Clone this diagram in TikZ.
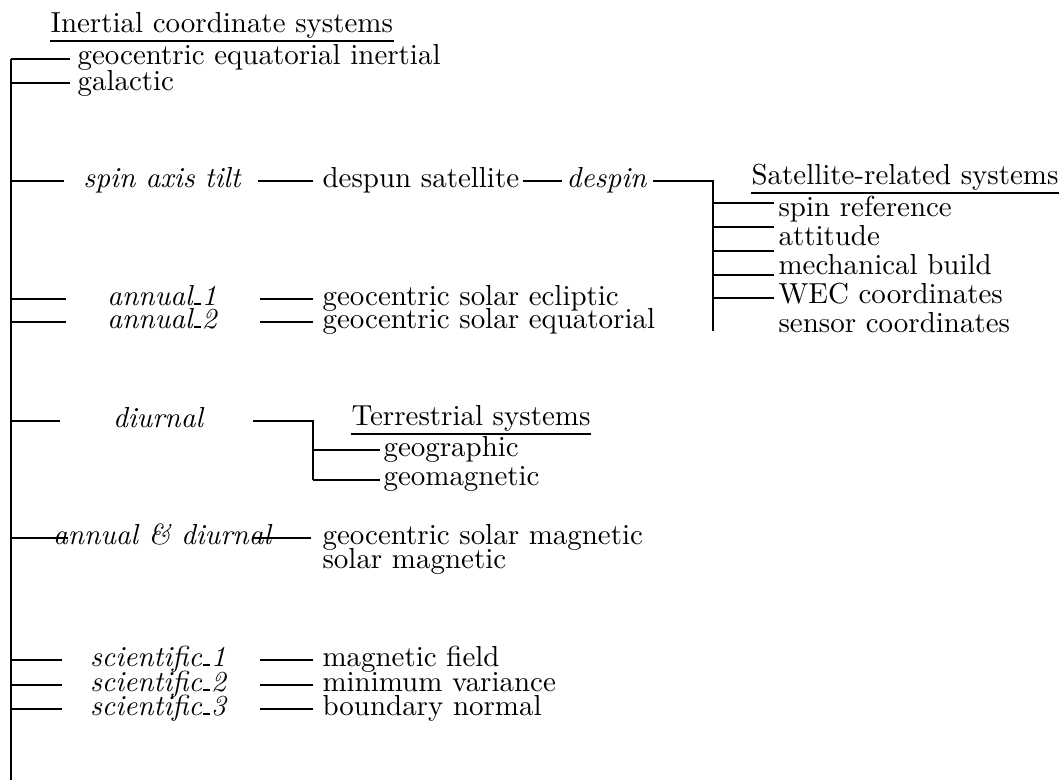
\documentclass[tikz,border=0pt]{standalone}
% short, heavy underscore as in the index labels
\newcommand\usc{\kern0.04em\rule{0.24em}{0.1em}\kern0.04em}
\begin{document}
\begin{tikzpicture}[x=0.3454pt,y=-0.3454pt,
  txt/.style={inner sep=0pt, anchor=base west},
  op/.style={inner sep=0pt, anchor=base, font=\itshape},
  conn/.style={line width=1pt},
  uline/.style={line width=0.6pt}]
\useasboundingbox (0,0) rectangle (1064,780);

% ---- inertial root and trunk
\node[txt] (inert) at (50,33) {Inertial coordinate systems};
\draw[uline] (inert.west |- 0,41) -- (inert.east |- 0,41);
\coordinate (trunkTop) at (11,59);
\coordinate (trunkBot) at (11,780);
\draw[conn] (trunkTop) -- (trunkBot);

\node[txt] (gei) at (77,64.5) {geocentric equatorial inertial};
\node[txt] (gal) at (77,91) {galactic};
\coordinate (galT) at (11,83);
\draw[conn, shorten >=2.4pt] (trunkTop) -- (gei.west |- trunkTop);
\draw[conn, shorten >=2.4pt] (galT) -- (gal.west |- galT);

% ---- spin axis tilt chain
\coordinate (sT) at (11,181);   \coordinate (sA) at (64,181);
\coordinate (sB) at (258,181);  \coordinate (sC) at (313,181);
\node[op] (tilt) at (162,187.5) {spin axis tilt};
\node[txt] (despun) at (322,187.5) {despun satellite};
\node[op, anchor=base west] (despin) at (566,187.5) {despin};
\coordinate (dsK) at (713,181);
\coordinate (dsBot) at (713,331);
\draw[conn] (sT) -- (sA);
\draw[conn] (sB) -- (sC);
\draw[conn, shorten <=1pt, shorten >=1.5pt] (despun.east |- sT) -- (despin.west |- sT);
\draw[conn, shorten <=2pt] (despin.east |- sT) -- (dsK) -- (dsBot);

% ---- satellite-related systems
\node[txt] (satT) at (751,185) {Satellite-related systems};
\draw[uline] (satT.west |- 0,193) -- (satT.east |- 0,193);
\node[txt] (spinref) at (778,217) {spin reference};
\node[txt] (att) at (778,246) {attitude};
\node[txt] (mech) at (778,275) {mechanical build};
\node[txt] (wec) at (778,304) {WEC coordinates};
\node[txt] (sens) at (778,333) {sensor coordinates};
\foreach \n/\y in {spinref/203, att/227, mech/251, wec/275, sens/298}{
  \coordinate (k-\n) at (713,\y);
  \draw[conn, shorten >=1.4pt] (k-\n) -- (\n.west |- k-\n);
}

% ---- annual rows
\coordinate (a1T) at (11,299);  \coordinate (a1A) at (66,299);
\coordinate (a1B) at (260,299); \coordinate (a1C) at (313,299);
\node[op] (ann1) at (162,305.5) {annual\usc 1};
\node[txt] (gse) at (322,305.5) {geocentric solar ecliptic};
\draw[conn] (a1T) -- (a1A);
\draw[conn] (a1B) -- (a1C);

\coordinate (a2T) at (11,322);  \coordinate (a2A) at (66,322);
\coordinate (a2B) at (260,322); \coordinate (a2C) at (313,322);
\node[op] (ann2) at (162,328.5) {annual\usc 2};
\node[txt] (gseq) at (322,328.5) {geocentric solar equatorial};
\draw[conn] (a2T) -- (a2A);
\draw[conn] (a2B) -- (a2C);

% ---- diurnal / terrestrial
\coordinate (dT) at (11,421);  \coordinate (dA) at (60,421);
\coordinate (dB) at (253,421); \coordinate (dK) at (313,421);
\coordinate (dBot) at (313,480);
\node[op] (diur) at (158,427.5) {diurnal};
\draw[conn] (dT) -- (dA);
\draw[conn] (dB) -- (dK) -- (dBot);
\node[txt] (terr) at (351,426) {Terrestrial systems};
\draw[uline] (terr.west |- 0,434) -- (terr.east |- 0,434);
\node[txt] (geog) at (383,457) {geographic};
\node[txt] (geom) at (383,486) {geomagnetic};
\coordinate (kGeog) at (313,450);
\draw[conn, shorten >=1pt] (kGeog) -- (geog.west |- kGeog);
\draw[conn, shorten >=1pt] (dBot) -- (geom.west |- dBot);

% ---- annual & diurnal
\coordinate (adT) at (11,538);  \coordinate (adA) at (68,538);
\coordinate (adB) at (253,538); \coordinate (adC) at (311,538);
\node[op] (annd) at (162,544.5) {annual \& diurnal};
\node[txt] (gsm) at (322,544.5) {geocentric solar magnetic};
\node[txt] (sm) at (322,569) {solar magnetic};
\draw[conn] (adT) -- (adA);
\draw[conn] (adB) -- (adC);

% ---- scientific rows
\foreach \i/\y/\lab in {1/660/magnetic field, 2/685/minimum variance, 3/709/boundary normal}{
  \coordinate (sc\i T) at (11,\y);  \coordinate (sc\i A) at (62,\y);
  \coordinate (sc\i B) at (260,\y); \coordinate (sc\i C) at (313,\y);
  \node[op] (sci\i) at (158,\y+6.5) {scientific\usc\i};
  \node[txt] (res\i) at (322,\y+6.5) {\lab};
  \draw[conn] (sc\i T) -- (sc\i A);
  \draw[conn] (sc\i B) -- (sc\i C);
}
\end{tikzpicture}
\end{document}
